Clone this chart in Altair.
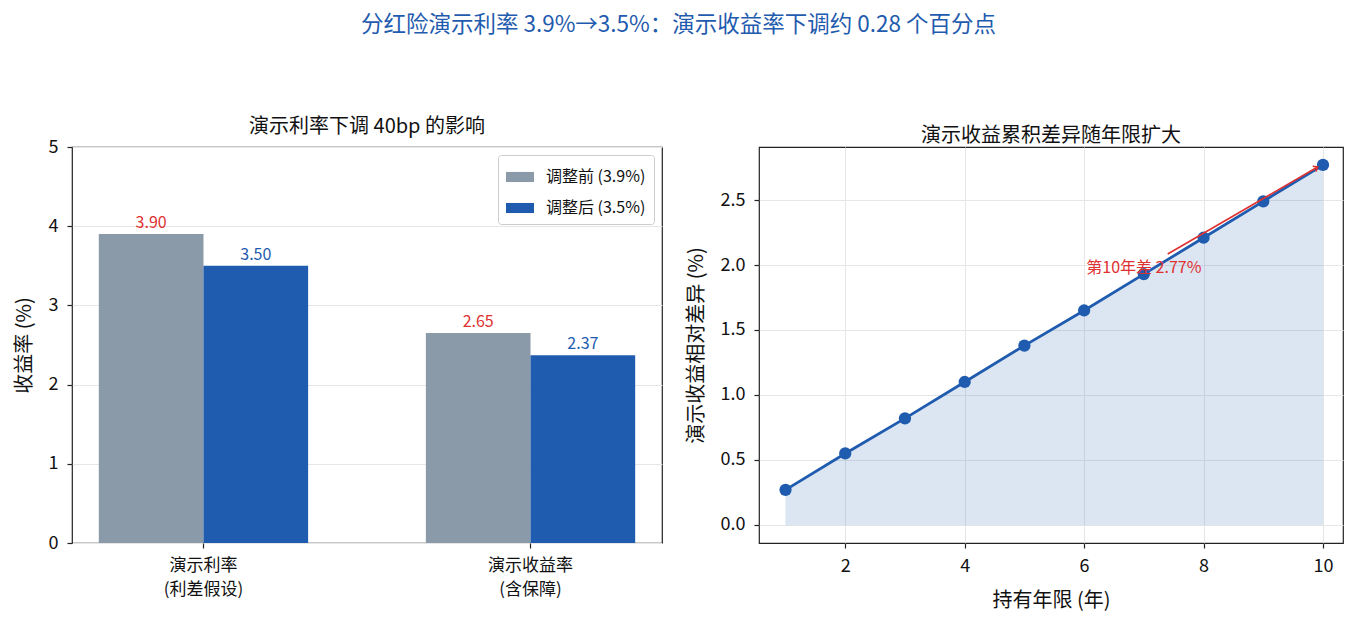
import altair as alt
import pandas as pd

BLUE = "#1f5bae"
GRAY = "#8a9aa9"
RED = "#e03131"
FONT = "Noto Sans CJK SC"
TICK_FS = 18
SMALL_FS = 17
LABEL_FS = 20
TITLE_FS = 20

# ---- data ----
categories = ["演示利率\n(利差假设)", "演示收益率\n(含保障)"]
series = ["调整前 (3.9%)", "调整后 (3.5%)"]
before_vals = [3.90, 2.65]
after_vals = [3.50, 2.37]

years = [1, 2, 3, 4, 5, 6, 7, 8, 9, 10]
diff_vals = [0.27, 0.55, 0.82, 1.10, 1.38, 1.65, 1.93, 2.21, 2.49, 2.77]

note_text = ["第10年差 2.77%"]
note_x = [7.0]
note_y = [1.977]
arrow_from = [7.40, 2.085]
arrow_to = [9.91, 2.754]

bar_rows = []
for c, b, a in zip(categories, before_vals, after_vals):
    bar_rows.append({"cat": c, "series": series[0], "value": b})
    bar_rows.append({"cat": c, "series": series[1], "value": a})
bar_df = pd.DataFrame(bar_rows)

line_df = pd.DataFrame({"year": years, "diff": diff_vals})

axis_common = dict(
    labelFontSize=TICK_FS,
    labelColor="#111",
    tickSize=5,
    tickColor="#222",
    tickWidth=1.2,
    labelPadding=9,
    domain=False,
    titleFontSize=LABEL_FS,
    titleFontWeight="normal",
    titleColor="#111",
)

# ---- left chart ----
x_enc = alt.X(
    "cat:N",
    sort=categories,
    scale=alt.Scale(paddingInner=0.36, paddingOuter=0.082),
    axis=alt.Axis(
        title=None,
        labelAngle=0,
        labelExpr="split(datum.label, '\\n')",
        labelLineHeight=24,
        grid=False,
        **{**axis_common, "labelFontSize": SMALL_FS},
    ),
)
xoff_enc = alt.XOffset("series:N", sort=series, scale=alt.Scale(paddingInner=0, paddingOuter=0))
y_enc = alt.Y(
    "value:Q",
    scale=alt.Scale(domain=[0, 5], nice=False),
    axis=alt.Axis(
        values=[0, 1, 2, 3, 4, 5],
        format="d",
        title="收益率 (%)",
        titlePadding=14,
        grid=True,
        gridColor="#e6e6e6",
        **axis_common,
    ),
)

bars = alt.Chart(bar_df).mark_bar().encode(
    x=x_enc,
    xOffset=xoff_enc,
    y=y_enc,
    color=alt.Color(
        "series:N",
        sort=series,
        scale=alt.Scale(domain=series, range=[GRAY, BLUE]),
        legend=alt.Legend(
            title=None,
            orient="top-right",
            offset=8,
            fillColor="white",
            strokeColor="#cccccc",
            padding=8,
            cornerRadius=3,
            labelFontSize=SMALL_FS - 1,
            labelColor="#111",
            symbolType="M-1,-0.36H1V0.36H-1Z",
            symbolSize=784,
            symbolStrokeWidth=0,
            rowPadding=9,
            labelOffset=12,
        ),
    ),
)

bar_labels = alt.Chart(bar_df).mark_text(dy=-3, baseline="bottom", fontSize=SMALL_FS - 1, font=FONT).encode(
    x=alt.X("cat:N", sort=categories),
    xOffset=alt.XOffset("series:N", sort=series),
    y=alt.Y("value:Q"),
    text=alt.Text("value:Q", format=".2f"),
    color=alt.condition(alt.datum.series == series[0], alt.value(RED), alt.value(BLUE)),
)

left = alt.layer(bars, bar_labels).properties(
    width=590,
    height=396,
    title=alt.TitleParams("演示利率下调 40bp 的影响", fontSize=TITLE_FS, fontWeight="normal", color="#111", offset=1),
)

# ---- right chart ----
xr = alt.X(
    "year:Q",
    scale=alt.Scale(domain=[0.556, 10.335], nice=False, zero=False),
    axis=alt.Axis(
        values=[2, 4, 6, 8, 10],
        format="d",
        title="持有年限 (年)",
        titlePadding=15,
        grid=True,
        gridColor="#e6e6e6",
        **axis_common,
    ),
)
yr = alt.Y(
    "diff:Q",
    scale=alt.Scale(domain=[-0.139, 2.908], nice=False, zero=False),
    axis=alt.Axis(
        values=[0, 0.5, 1.0, 1.5, 2.0, 2.5],
        format=".1f",
        title="演示收益相对差异 (%)",
        titlePadding=14,
        grid=True,
        gridColor="#e6e6e6",
        **axis_common,
    ),
)

base = alt.Chart(line_df)
area = base.mark_area(color=BLUE, opacity=0.15, stroke=BLUE, strokeOpacity=0.25, strokeWidth=1).encode(
    x=xr, y=yr, y2=alt.datum(0)
)
line = base.mark_line(color=BLUE, strokeWidth=2.8).encode(x=xr, y=yr)
pts = base.mark_circle(color=BLUE, size=150, opacity=1).encode(x=xr, y=yr)

note_df = pd.DataFrame({"x": note_x, "y": note_y, "t": note_text})
note = alt.Chart(note_df).mark_text(color=RED, fontSize=SMALL_FS - 1, font=FONT, align="center", baseline="middle").encode(
    x=alt.X("x:Q"), y=alt.Y("y:Q"), text="t:N"
)
arrow_df = pd.DataFrame({"x": [arrow_from[0]], "y": [arrow_from[1]], "x2": [arrow_to[0]], "y2": [arrow_to[1]]})
arrow = alt.Chart(arrow_df).mark_rule(color=RED, strokeWidth=1.6).encode(
    x="x:Q", y="y:Q", x2="x2:Q", y2="y2:Q"
)
head_df = pd.DataFrame({"x": [arrow_to[0]], "y": [arrow_to[1]]})
head = alt.Chart(head_df).mark_point(
    shape="M-1,-0.8L0,0L-1,0.8", filled=False, color=RED, strokeWidth=1.6, size=60, angle=330, opacity=1
).encode(x="x:Q", y="y:Q")

right = alt.layer(area, line, pts, arrow, head, note).properties(
    width=584,
    height=396,
    title=alt.TitleParams("演示收益累积差异随年限扩大", fontSize=TITLE_FS, fontWeight="normal", color="#111", offset=1),
)

chart = (
    alt.hconcat(left, right, spacing=22)
    .resolve_scale(color="independent")
    .resolve_legend(color="independent")
    .properties(
        title=alt.TitleParams(
            "分红险演示利率 3.9%→3.5%：演示收益率下调约 0.28 个百分点",
            fontSize=22.5,
            fontWeight="normal",
            color=BLUE,
            anchor="middle",
            offset=80,
        )
    )
    .configure(font=FONT)
    .configure_view(stroke="#222", strokeWidth=1.2)
)

chart.save("out.html", embed_options={"renderer": "svg", "actions": False})
